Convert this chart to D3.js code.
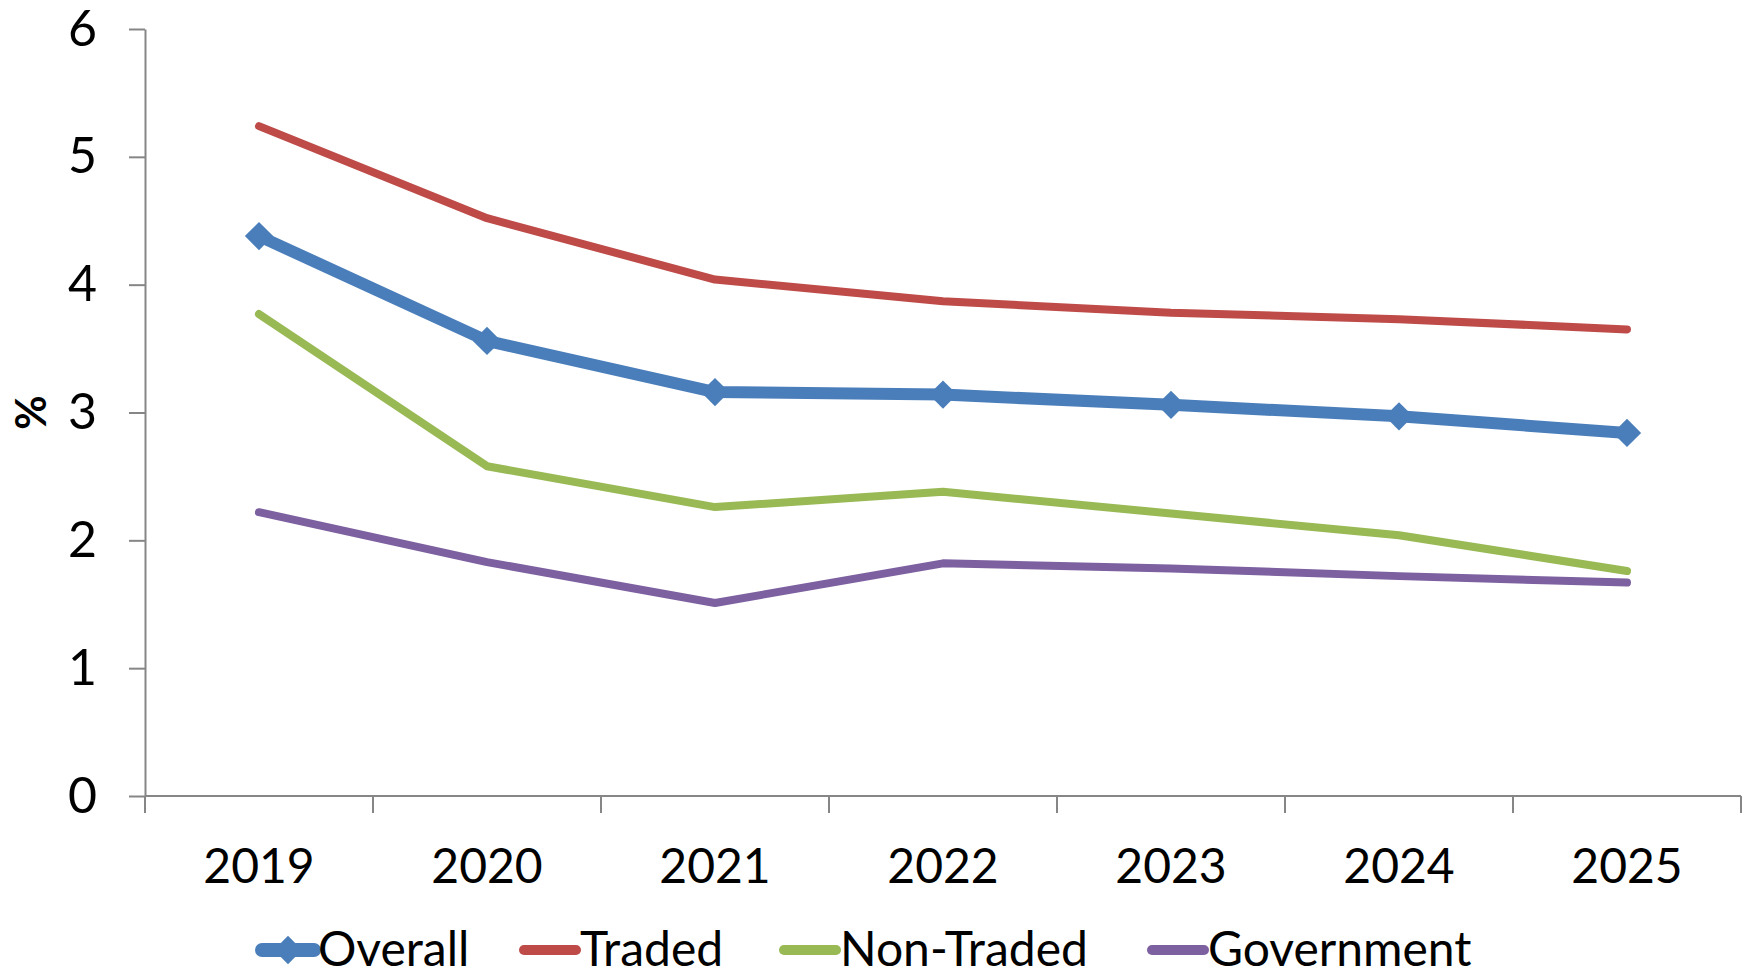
<!DOCTYPE html>
<html>
<head>
<meta charset="utf-8">
<script src="https://cdn.jsdelivr.net/npm/d3@7"></script>
<style>
  body { margin: 0; background: #fff; }
  text { font-family: Lato, "Open Sans", sans-serif; }
</style>
</head>
<body>
<div id="chart"></div>
<script>
const years = ['2019', '2020', '2021', '2022', '2023', '2024', '2025'];
const overall = [4.38, 3.56, 3.16, 3.14, 3.06, 2.97, 2.84];
const traded = [5.24, 4.52, 4.04, 3.87, 3.78, 3.73, 3.65];
const nonTraded = [3.77, 2.58, 2.26, 2.38, 2.21, 2.04, 1.76];
const government = [2.22, 1.83, 1.51, 1.82, 1.78, 1.72, 1.67];
const yTicks = [0, 1, 2, 3, 4, 5, 6];

const width = 1748, height = 973;
const margin = { top: 29, right: 7, bottom: 177, left: 145 };

const series = [
  { name: 'Overall', values: overall, color: '#4A7EBB', width: 12, marker: true },
  { name: 'Traded', values: traded, color: '#BE4B48', width: 8 },
  { name: 'Non-Traded', values: nonTraded, color: '#98B954', width: 8 },
  { name: 'Government', values: government, color: '#7D60A0', width: 8 }
];

const svg = d3.select('#chart')
  .append('svg')
  .attr('width', width)
  .attr('height', height);

const x = d3.scaleBand()
  .domain(years)
  .range([margin.left, width - margin.right]);

const y = d3.scaleLinear()
  .domain([0, 6])
  .range([height - margin.bottom, margin.top]);

const cx = d => x(d) + x.bandwidth() / 2;

// y axis
const yAxis = svg.append('g')
  .attr('transform', `translate(${margin.left},0)`)
  .call(d3.axisLeft(y).tickValues(yTicks).tickFormat(d3.format('d'))
    .tickSize(16).tickSizeOuter(0).tickPadding(32));
yAxis.select('.domain').attr('stroke', '#868686').attr('stroke-width', 2);
yAxis.selectAll('.tick line').attr('stroke', '#868686').attr('stroke-width', 2);
yAxis.selectAll('.tick text')
  .attr('font-size', 50)
  .attr('fill', '#000')
  .style('font-family', 'Lato, sans-serif');

// x axis line + ticks between categories
const y0 = y(0);
svg.append('line')
  .attr('x1', margin.left).attr('x2', width - margin.right)
  .attr('y1', y0).attr('y2', y0)
  .attr('stroke', '#868686').attr('stroke-width', 2);

const bounds = years.map(d => x(d)).concat([x(years[years.length - 1]) + x.bandwidth()]);
svg.selectAll('.xtick')
  .data(bounds)
  .enter()
  .append('line')
    .attr('x1', d => d).attr('x2', d => d)
    .attr('y1', y0).attr('y2', y0 + 17)
    .attr('stroke', '#868686').attr('stroke-width', 2);

svg.selectAll('.xlabel')
  .data(years)
  .enter()
  .append('text')
    .attr('x', d => cx(d))
    .attr('y', y0 + 87)
    .attr('text-anchor', 'middle')
    .attr('font-size', 48)
    .text(d => d);

// y title
svg.append('text')
  .attr('transform', `translate(46,${y(3)}) rotate(-90)`)
  .attr('text-anchor', 'middle')
  .attr('font-size', 42)
  .attr('font-weight', 'bold')
  .text('%');

// lines
const line = d3.line()
  .x((d, i) => cx(years[i]))
  .y(d => y(d));

series.slice().reverse().forEach(s => {
  svg.append('path')
    .datum(s.values)
    .attr('fill', 'none')
    .attr('stroke', s.color)
    .attr('stroke-width', s.width)
    .attr('stroke-linejoin', 'round')
    .attr('stroke-linecap', 'round')
    .attr('d', line);
});

const diamond = d3.symbol().type(d3.symbolSquare).size(400);
series.filter(s => s.marker).forEach(s => {
  svg.selectAll('.marker')
    .data(s.values)
    .enter()
    .append('path')
      .attr('d', diamond)
      .attr('transform', (d, i) => `translate(${cx(years[i])},${y(d)}) rotate(45)`)
      .attr('fill', s.color);
});

// legend
const legendY = 950;
const legendX = [262, 524, 784, 1152];
const legend = svg.selectAll('.legend')
  .data(series)
  .enter()
  .append('g')
    .attr('transform', (d, i) => `translate(${legendX[i]},${legendY})`);

legend.append('line')
  .attr('x1', 0).attr('x2', 52)
  .attr('stroke', d => d.color)
  .attr('stroke-width', d => d.width + 2)
  .attr('stroke-linecap', 'round');

legend.filter(d => d.marker)
  .append('path')
    .attr('d', diamond)
    .attr('transform', 'translate(26,0) rotate(45)')
    .attr('fill', d => d.color);

legend.append('text')
  .attr('x', 56)
  .attr('y', 16)
  .attr('font-size', 48)
  .text(d => d.name);
</script>
</body>
</html>
